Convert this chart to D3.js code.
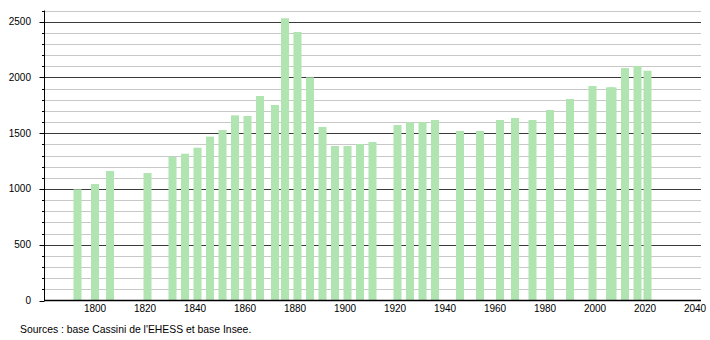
<!DOCTYPE html>
<html lang="fr">
<head>
<meta charset="UTF-8" />
<title>Population</title>
<style>
  body { margin: 0; background: white; }
  svg { display: block; font-family: 'Liberation Sans', Arial, sans-serif; }
</style>
<script src="https://d3js.org/d3.v7.min.js"></script>
</head>
<body>
<div id="chart"></div>
<script>
  // census years and population
  const years = [1793, 1800, 1806, 1821, 1831, 1836, 1841, 1846, 1851, 1856,
    1861, 1866, 1872, 1876, 1881, 1886, 1891, 1896, 1901, 1906,
    1911, 1921, 1926, 1931, 1936, 1946, 1954, 1962, 1968, 1975,
    1982, 1990, 1999, 2006, 2007, 2012, 2017, 2021];
  const population = [997, 1044, 1161, 1143, 1289, 1316, 1370, 1469, 1529, 1660,
    1654, 1833, 1753, 2530, 2407, 2001, 1556, 1385, 1385, 1403,
    1421, 1573, 1598, 1600, 1618, 1520, 1520, 1618, 1636, 1618,
    1708, 1807, 1923, 1911, 1911, 2084, 2102, 2060];
  const xTicks = [1800, 1820, 1840, 1860, 1880, 1900, 1920, 1940, 1960, 1980, 2000, 2020, 2040];
  const yTicks = [0, 500, 1000, 1500, 2000, 2500];
  const sourceText = "Sources : base Cassini de l'EHESS et base Insee.";

  const width = 710, height = 340;
  const plotLeft = 44, plotRight = 701, plotTop = 10.5, plotBottom = 300.5;

  const svg = d3.select("#chart").append("svg")
    .attr("width", width)
    .attr("height", height);

  const x = d3.scaleLinear().domain([1780, 2040]).range([45, 695]);
  const y = d3.scaleLinear().domain([0, 2600]).range([plotBottom, plotTop]);

  // grid lines: light every 100, dark every 500
  const minor = d3.range(100, 2601, 100).filter(v => v % 500 !== 0);
  svg.append("g").selectAll("line")
    .data(minor)
    .enter().append("line")
    .attr("x1", plotLeft).attr("x2", plotRight)
    .attr("y1", d => Math.round(y(d)) + 0.5)
    .attr("y2", d => Math.round(y(d)) + 0.5)
    .attr("stroke", "#c8c8c8");
  svg.append("g").selectAll("line")
    .data(yTicks.filter(v => v > 0))
    .enter().append("line")
    .attr("x1", plotLeft).attr("x2", plotRight)
    .attr("y1", d => Math.round(y(d)) + 0.5)
    .attr("y2", d => Math.round(y(d)) + 0.5)
    .attr("stroke", "#3a3a3a");

  // bars
  const data = years.map((yr, i) => ({ year: yr, value: population[i] }));
  svg.append("g").selectAll("rect")
    .data(data)
    .enter().append("rect")
    .attr("x", d => x(d.year) - 4)
    .attr("width", 8)
    .attr("y", d => y(d.value))
    .attr("height", d => y(0) - y(d.value))
    .attr("fill", "#b0e4b0");

  // y axis
  const yAxis = svg.append("g").attr("transform", `translate(${plotLeft + 0.5},0)`);
  yAxis.append("line")
    .attr("y1", plotTop).attr("y2", plotBottom)
    .attr("stroke", "black");
  yAxis.selectAll(".minor")
    .data(d3.range(100, 2601, 100))
    .enter().append("line")
    .attr("x1", -2.5).attr("x2", 0)
    .attr("y1", d => Math.round(y(d)) + 0.5)
    .attr("y2", d => Math.round(y(d)) + 0.5)
    .attr("stroke", "black");
  yAxis.selectAll(".major")
    .data(yTicks)
    .enter().append("line")
    .attr("x1", -5).attr("x2", 0)
    .attr("y1", d => Math.round(y(d)) + 0.5)
    .attr("y2", d => Math.round(y(d)) + 0.5)
    .attr("stroke", "black");
  yAxis.selectAll("text")
    .data(yTicks)
    .enter().append("text")
    .attr("x", -13.5)
    .attr("y", d => y(d) + 3.5)
    .attr("text-anchor", "end")
    .attr("font-size", 10)
    .attr("fill", "black")
    .text(d => d);

  // x axis
  svg.append("line")
    .attr("x1", plotLeft).attr("x2", plotRight)
    .attr("y1", plotBottom).attr("y2", plotBottom)
    .attr("stroke", "black")
    .attr("stroke-width", 1.3);
  svg.append("g").selectAll("text")
    .data(xTicks)
    .enter().append("text")
    .attr("x", d => x(d))
    .attr("y", 312)
    .attr("text-anchor", "middle")
    .attr("font-size", 10)
    .attr("fill", "black")
    .text(d => d);

  svg.append("text")
    .attr("x", 20)
    .attr("y", 333)
    .attr("font-size", 10.4)
    .attr("fill", "black")
    .text(sourceText);
</script>
</body>
</html>
